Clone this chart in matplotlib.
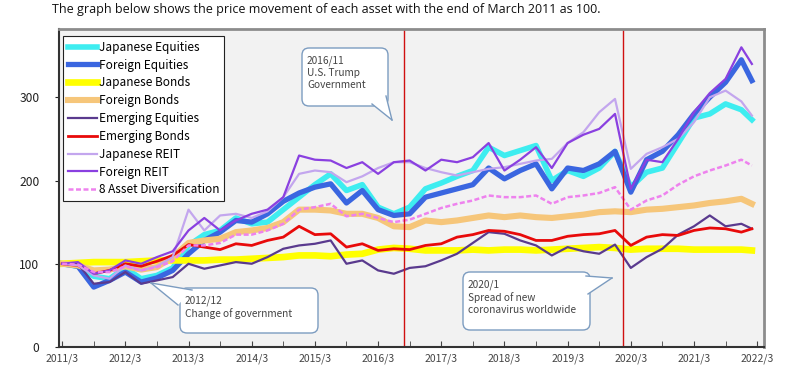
import numpy as np
import matplotlib
matplotlib.use("Agg")
import matplotlib.pyplot as plt
from matplotlib.patches import FancyBboxPatch, Polygon
from matplotlib.lines import Line2D

plt.rcParams['font.family'] = ['Noto Sans CJK JP', 'DejaVu Sans']

# months after 2011/3 (quarterly, last point 2022/2)
months = list(range(0, 130, 3)) + [131]

jp_equities = [100, 97, 85, 82, 95, 82, 86, 95, 122, 135, 140, 155, 148, 150, 165, 180,
               195, 208, 188, 195, 168, 160, 168, 190, 197, 205, 212, 240, 230, 236, 242, 200,
               212, 205, 215, 235, 192, 210, 215, 245, 275, 280, 292, 285, 273]
fr_equities = [100, 97, 72, 80, 90, 78, 83, 92, 112, 128, 138, 152, 150, 160, 175, 185,
               192, 196, 173, 188, 165, 158, 160, 180, 185, 190, 195, 215, 202, 212, 220, 190,
               215, 212, 220, 235, 186, 225, 235, 255, 280, 300, 318, 345, 320]
jp_bonds = [100, 101, 102, 102, 102, 103, 104, 104, 104, 104, 105, 105, 106, 107, 108, 110,
            110, 109, 111, 112, 117, 119, 118, 116, 116, 116, 117, 116, 117, 117, 116, 117,
            118, 119, 120, 119, 117, 118, 118, 118, 117, 117, 117, 117, 116]
fr_bonds = [100, 98, 92, 93, 97, 93, 96, 108, 125, 128, 130, 138, 140, 143, 150, 165,
            165, 164, 160, 160, 155, 145, 144, 152, 150, 152, 155, 158, 156, 158, 156, 155,
            157, 159, 162, 163, 162, 165, 166, 168, 170, 173, 175, 178, 172]
em_equities = [100, 100, 76, 78, 90, 76, 80, 84, 100, 94, 98, 102, 100, 108, 118, 122,
               124, 128, 100, 104, 92, 88, 95, 97, 104, 112, 125, 138, 136, 128, 122, 110,
               120, 115, 112, 123, 95, 108, 118, 135, 145, 158, 145, 148, 142]
em_bonds = [100, 98, 88, 92, 100, 97, 103, 110, 123, 120, 117, 124, 122, 128, 132, 145,
            135, 136, 120, 124, 116, 118, 117, 122, 124, 132, 135, 140, 139, 135, 128, 128,
            133, 135, 136, 140, 122, 132, 135, 134, 140, 143, 142, 138, 142]
jp_reit = [100, 98, 86, 82, 98, 92, 97, 108, 165, 140, 158, 160, 155, 163, 180, 208,
           212, 210, 198, 205, 215, 222, 222, 215, 210, 206, 210, 214, 216, 220, 224, 226,
           245, 258, 282, 298, 214, 232, 240, 250, 270, 300, 308, 295, 278]
fr_reit = [100, 102, 88, 92, 104, 100, 108, 115, 140, 155, 140, 152, 160, 165, 180, 230,
           225, 224, 215, 222, 208, 222, 224, 212, 225, 222, 228, 245, 212, 225, 240, 215,
           245, 255, 262, 280, 190, 225, 222, 250, 282, 305, 322, 360, 340]
diversified = [100, 99, 90, 90, 97, 92, 96, 103, 122, 122, 125, 135, 135, 140, 148, 165,
               168, 172, 157, 160, 155, 150, 153, 160, 167, 172, 176, 182, 180, 180, 182, 172,
               180, 182, 185, 192, 165, 176, 182, 195, 205, 212, 218, 225, 218]

year_labels = ["2011/3", "2012/3", "2013/3", "2014/3", "2015/3", "2016/3",
               "2017/3", "2018/3", "2019/3", "2020/3", "2021/3", "2022/3"]

series = [
    ("Japanese Equities", jp_equities, "#3EEDF0", 4.0, "-"),
    ("Foreign Equities", fr_equities, "#3A66E0", 3.8, "-"),
    ("Japanese Bonds", jp_bonds, "#FFFF00", 4.8, "-"),
    ("Foreign Bonds", fr_bonds, "#F6C67A", 4.4, "-"),
    ("Emerging Equities", em_equities, "#5A3A8E", 1.6, "-"),
    ("Emerging Bonds", em_bonds, "#E80A0A", 2.0, "-"),
    ("Japanese REIT", jp_reit, "#C3A6EE", 1.6, "-"),
    ("Foreign REIT", fr_reit, "#8A40E0", 1.6, "-"),
    ("8 Asset Diversification", diversified, "#EE82EE", 1.8, (0, (2, 1))),
]

W, H = 788, 375
fig = plt.figure(figsize=(W / 100, H / 100), dpi=100)
ax = fig.add_axes([59 / W, 28 / H, 705 / W, 318 / H])
ax.set_facecolor("#F2F2F2")

for name, vals, col, lw, ls in series:
    ax.plot(months, vals, color=col, lw=lw, ls=ls, label=name)

# event lines
ax.axvline(65, color="#D01010", lw=1)
ax.axvline(106.5, color="#D01010", lw=1)

ax.set_xlim(-0.6, 133.3)
ax.set_ylim(0, 382)
ax.set_xticks(range(0, 133, 12))
ax.set_xticklabels(year_labels)
ax.set_xticks(range(6, 133, 12), minor=True)
ax.set_yticks([0, 100, 200, 300])
ax.tick_params(axis="x", which="both", direction="in", length=4, pad=5,
               labelsize=7.5, colors="#444444")
ax.tick_params(axis="y", direction="out", length=3, pad=11, labelsize=8.7, colors="#222222")

for s in ["top", "right"]:
    ax.spines[s].set_color("#8C8C8C")
    ax.spines[s].set_linewidth(2)
for s in ["left", "bottom"]:
    ax.spines[s].set_color("#333333")
    ax.spines[s].set_linewidth(1.5)

leg = ax.legend(loc="upper left", bbox_to_anchor=(0.006, 0.978), fontsize=8.5,
                handlelength=2.5, handletextpad=0.1, labelspacing=0.41,
                borderpad=0.4, fancybox=False, framealpha=1, borderaxespad=0)
leg.get_frame().set_edgecolor("#222222")
leg.get_frame().set_linewidth(0.8)


# callout boxes, given in figure pixels (top-left origin)
def fx(px):
    return px / W


def fy(py):
    return 1 - py / H


def callout(x0, y0, x1, y1, base1, base2, tip, text):
    ec = "#7C9CC0"
    b = FancyBboxPatch((fx(x0), fy(y1)), fx(x1) - fx(x0), fy(y0) - fy(y1),
                       boxstyle="round,pad=0,rounding_size=0.009", mutation_aspect=W / H,
                       transform=fig.transFigure, fc="white", ec=ec, lw=1, zorder=5)
    fig.add_artist(b)
    pts = [(fx(base1[0]), fy(base1[1])), (fx(tip[0]), fy(tip[1])), (fx(base2[0]), fy(base2[1]))]
    fig.add_artist(Polygon(pts, closed=True, transform=fig.transFigure, fc="white",
                           ec="none", zorder=6))
    for bp in (pts[0], pts[2]):
        fig.add_artist(Line2D([bp[0], pts[1][0]], [bp[1], pts[1][1]], color=ec, lw=1,
                              transform=fig.transFigure, zorder=7))
    fig.text(fx(x0 + 5), fy(y0 + 7), text, fontsize=7.3, color="#444444", va="top",
             ha="left", linespacing=1.25, zorder=8)


callout(302, 48, 388, 106, (372, 104), (386, 96), (392, 120),
        "2016/11\nU.S. Trump\nGovernment")
callout(180, 288, 318, 333, (178, 305), (192, 290), (151, 283),
        "2012/12\nChange of government")
callout(463, 272, 590, 330, (586, 276), (588, 294), (612, 278),
        "2020/1\nSpread of new\ncoronavirus worldwide")

fig.text(52 / W, 1 - 10 / H,
         "The graph below shows the price movement of each asset with the end of March 2011 as 100.",
         fontsize=9, family=["Open Sans", "DejaVu Sans"], va="center", ha="left", color="#111111")

fig.savefig("out.png", dpi=100)
